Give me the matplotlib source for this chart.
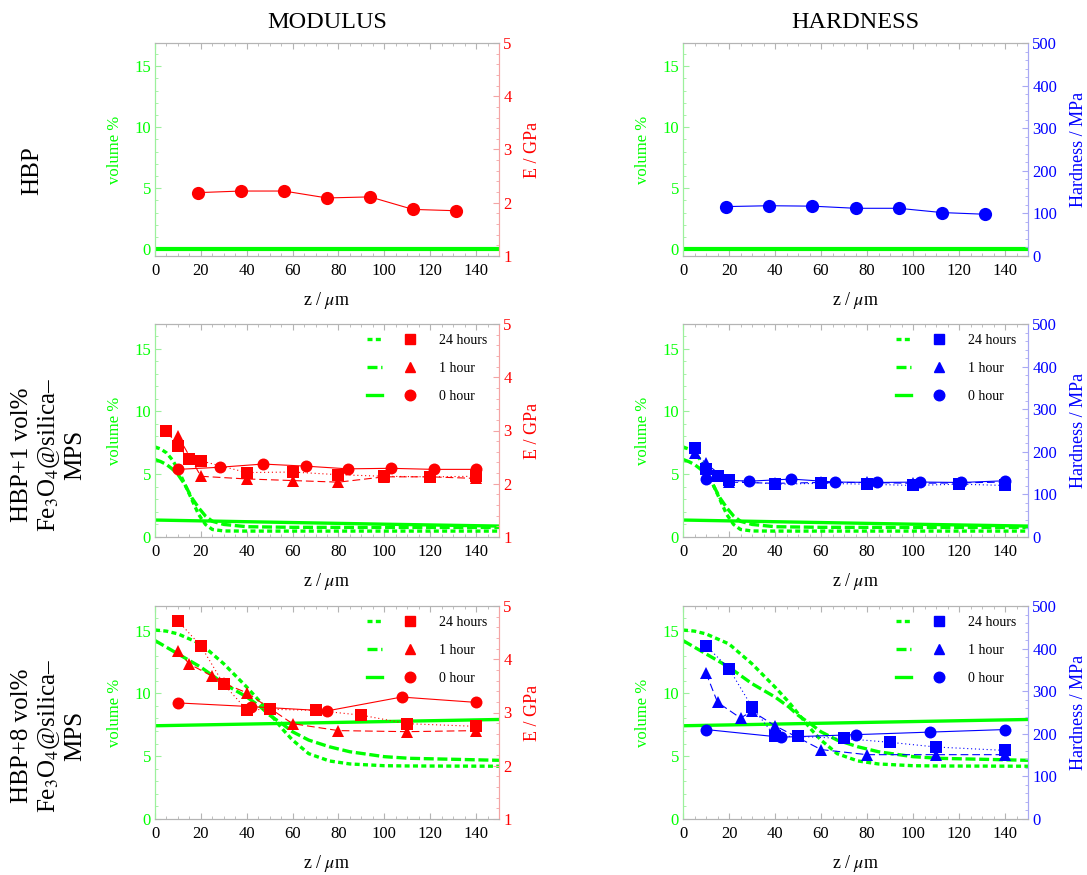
import matplotlib
matplotlib.use("Agg")
import matplotlib.pyplot as plt
from matplotlib.lines import Line2D
from matplotlib.legend_handler import HandlerTuple
from matplotlib.ticker import MultipleLocator

plt.rcParams["font.family"] = ["Liberation Serif", "DejaVu Serif"]
plt.rcParams["mathtext.fontset"] = "stix"

# ---- data -------------------------------------------------------------
# neat HBP
hbp_z = [18.75, 37.5, 56.25, 75.0, 93.75, 112.5, 131.25]
hbp_E = [2.19, 2.22, 2.22, 2.09, 2.11, 1.875, 1.85]
hbp_H = [116, 118, 117, 112, 112, 102, 98]
hbp_vol_z = [0, 150]
hbp_vol = [0, 0]

# HBP + 1 vol% particles: volume profiles
p1_vol_z = [0, 2.5, 5, 7.5, 10, 13, 16, 19, 22, 25, 30, 40, 60, 100, 150]
p1_vol_24 = [7.17, 7.0, 6.7, 6.15, 5.4, 4.2, 3.0, 1.8, 1.0, 0.6, 0.48, 0.47, 0.47, 0.47, 0.47]
p1_vol_1 = [6.17, 6.0, 5.77, 5.42, 4.98, 4.18, 3.13, 2.33, 1.67, 1.25, 1.0, 0.82, 0.77, 0.76, 0.76]
p1_vol_0z = [0, 30, 60, 100, 150]
p1_vol_0 = [1.35, 1.25, 1.15, 1.02, 0.87]

# HBP + 1 vol%: modulus
p1_zE_24 = [5, 10, 15, 20, 40, 60, 80, 100, 120, 140]
p1_E_24 = [3.00, 2.70, 2.47, 2.43, 2.21, 2.22, 2.17, 2.14, 2.13, 2.14]
p1_zE_1 = [10, 20, 40, 60, 80, 100, 120, 140]
p1_E_1 = [2.90, 2.14, 2.09, 2.06, 2.03, 2.13, 2.13, 2.10]
p1_zE_0 = [10, 28.3, 47.1, 66, 84, 102.7, 121.5, 140]
p1_E_0 = [2.27, 2.31, 2.37, 2.33, 2.28, 2.29, 2.27, 2.27]

# HBP + 1 vol%: hardness
p1_zH_24 = [5, 10, 15, 20, 40, 60, 80, 100, 120, 140]
p1_H_24 = [208, 159, 143, 134, 124, 126, 124, 121, 124, 121]
p1_zH_1 = [5, 10, 20, 40, 60, 80, 100, 120, 140]
p1_H_1 = [198, 173, 129, 126, 128, 128, 126, 127, 129]
p1_zH_0 = [10, 28.7, 47.1, 66, 84.3, 103, 121, 140]
p1_H_0 = [136, 131, 136, 129, 128, 129, 128, 132]

# HBP + 8 vol% particles: volume profiles
p8_vol_z = [0, 5, 10, 20, 30, 40, 46, 50, 56, 60, 67, 76, 85, 100, 111, 150]
p8_vol_24 = [15.04, 14.95, 14.73, 13.93, 12.35, 10.5, 9.3, 8.4, 7.07, 6.28, 5.2, 4.62, 4.38, 4.24, 4.22, 4.2]
p8_vol_1 = [14.2, 13.67, 13.14, 12.08, 10.77, 9.71, 8.92, 8.26, 7.5, 6.94, 6.28, 5.75, 5.35, 4.96, 4.83, 4.67]
p8_vol_0z = [0, 150]
p8_vol_0 = [7.42, 7.92]

# HBP + 8 vol%: modulus
p8_z_24 = [10, 20, 30, 40, 50, 70, 90, 110, 140]
p8_E_24 = [4.72, 4.25, 3.53, 3.05, 3.06, 3.04, 2.95, 2.79, 2.74]
p8_z_1 = [10, 15, 25, 30, 40, 60, 80, 110, 140]
p8_E_1 = [4.16, 3.91, 3.68, 3.55, 3.37, 2.79, 2.66, 2.64, 2.66]
p8_zE_0 = [10, 42, 75, 107.5, 140]
p8_E_0 = [3.18, 3.11, 3.03, 3.29, 3.19]

# HBP + 8 vol%: hardness
p8_H_24 = [407, 353, 263, 194, 194, 189, 180, 169, 161]
p8_H_1 = [343, 274, 237, 253, 219, 163, 151, 151, 151]
p8_zH_0 = [10, 42.5, 75, 107.5, 140]
p8_H_0 = [210, 192, 198, 204, 210]

legend_labels = ["24 hours", "1 hour", "0 hour"]
row_labels = ["HBP",
              "HBP+1 vol%\nFe$_3$O$_4$@silica\u2013\nMPS",
              "HBP+8 vol%\nFe$_3$O$_4$@silica\u2013\nMPS"]

# ---- styles -----------------------------------------------------------
GREEN = "#00ff00"
RED = "#ff0000"
BLUE = "#0000ff"
FRAME = "#b4b4b4"
vol_styles = [(0, (1.5, 1.0)), (0, (3.0, 1.1)), "-"]
pt_styles = [(0, (1, 2.5)), (0, (7, 3.5)), "-"]
markers = ["s", "^", "o"]
msizes = [8, 8, 8.6]

fig = plt.figure(figsize=(10.87, 8.75), dpi=100)
W, H = 1087, 875
col_x = [155, 683]
col_w = [344, 345]
row_top = [43, 324, 606]
ax_h = 213


def setup(ax, ax2, right_color, light, right_label, right_lim, major, minor, vol_lim, label_x):
    ax.set_xlim(0, 150)
    ax.set_ylim(*vol_lim)
    ax2.set_ylim(*right_lim)
    ax.xaxis.set_major_locator(MultipleLocator(20))
    ax.xaxis.set_minor_locator(MultipleLocator(5))
    ax.yaxis.set_major_locator(MultipleLocator(5))
    ax.yaxis.set_minor_locator(MultipleLocator(1))
    ax2.yaxis.set_major_locator(MultipleLocator(major))
    ax2.yaxis.set_minor_locator(MultipleLocator(minor))
    ax.tick_params(axis="x", which="both", direction="in", top=True, color=FRAME,
                   labelcolor="black", labelsize=12, pad=5)
    ax.tick_params(axis="x", which="major", length=4)
    ax.tick_params(axis="x", which="minor", length=2.2)
    ax.tick_params(axis="y", which="both", direction="in", right=False, color="#9cf09c",
                   labelcolor=GREEN, labelsize=12, pad=3)
    ax.tick_params(axis="y", which="major", length=4)
    ax.tick_params(axis="y", which="minor", length=2.2)
    ax2.tick_params(axis="y", which="both", direction="in", color=light,
                    labelcolor=right_color, labelsize=12, pad=3)
    ax2.tick_params(axis="y", which="major", length=4)
    ax2.tick_params(axis="y", which="minor", length=2.2)
    for a in (ax, ax2):
        a.spines["top"].set_color(FRAME)
        a.spines["bottom"].set_color(FRAME)
        a.spines["left"].set_color("#9cf09c")
        a.spines["right"].set_color(light)
    ax.set_xlabel("z / $\\mu$m", fontsize=13)
    ax.xaxis.set_label_coords(0.5, -0.16)
    ax.set_ylabel("volume %", fontsize=12, color=GREEN)
    ax.yaxis.set_label_coords(-0.093, 0.5)
    ax2.set_ylabel(right_label, fontsize=13, color=right_color)
    ax2.yaxis.set_label_coords(label_x, 0.5)


def add_legend(ax2, color):
    handles = []
    for ls, mk, ms in zip(vol_styles, markers, msizes):
        h_line = Line2D([], [], color=GREEN, lw=2.4, ls=ls)
        h_pt = Line2D([], [], color=color, marker=mk, ls="none", markersize=ms - 1)
        handles.append((h_line, h_pt))
    ax2.legend(handles, legend_labels, handler_map={tuple: HandlerTuple(ndivide=None, pad=1.45)},
               loc="upper right", frameon=False, fontsize=10, handlelength=3.6,
               handletextpad=1.6, labelspacing=1.1, borderaxespad=0.3,
               bbox_to_anchor=(0.995, 1.0))


rows = [
    dict(vol=[(hbp_vol_z, hbp_vol, "-")], lim=(-0.55, 16.9),
         E=[(hbp_z, hbp_E, "o", "-")], Hd=[(hbp_z, hbp_H, "o", "-")]),
    dict(vol=[(p1_vol_z, p1_vol_24, vol_styles[0]), (p1_vol_z, p1_vol_1, vol_styles[1]),
              (p1_vol_0z, p1_vol_0, "-")], lim=(0, 16.95),
         E=[(p1_zE_24, p1_E_24, "s", pt_styles[0]), (p1_zE_1, p1_E_1, "^", pt_styles[1]),
            (p1_zE_0, p1_E_0, "o", "-")],
         Hd=[(p1_zH_24, p1_H_24, "s", pt_styles[0]), (p1_zH_1, p1_H_1, "^", pt_styles[1]),
             (p1_zH_0, p1_H_0, "o", "-")]),
    dict(vol=[(p8_vol_z, p8_vol_24, vol_styles[0]), (p8_vol_z, p8_vol_1, vol_styles[1]),
              (p8_vol_0z, p8_vol_0, "-")], lim=(0, 16.95),
         E=[(p8_z_24, p8_E_24, "s", pt_styles[0]), (p8_z_1, p8_E_1, "^", pt_styles[1]),
            (p8_zE_0, p8_E_0, "o", "-")],
         Hd=[(p8_z_24, p8_H_24, "s", pt_styles[0]), (p8_z_1, p8_H_1, "^", pt_styles[1]),
             (p8_zH_0, p8_H_0, "o", "-")]),
]

msize = {"s": 8, "^": 8, "o": 8.6}

for r, row in enumerate(rows):
    for c in range(2):
        rect = [col_x[c] / W, 1 - (row_top[r] + ax_h) / H, col_w[c] / W, ax_h / H]
        ax = fig.add_axes(rect)
        ax2 = ax.twinx()
        if c == 0:
            color, light, lab, lim, maj, mnr, lx = RED, "#f4a4a4", "E / GPa", (1, 5), 1, 0.2, 1.073
            pts = row["E"]
        else:
            color, light, lab, lim, maj, mnr, lx = BLUE, "#a8a8f4", "Hardness / MPa", (0, 500), 100, 20, 1.122
            pts = row["Hd"]
        setup(ax, ax2, color, light, lab, lim, maj, mnr, row["lim"], lx)

        lw = 3.0 if r == 0 else 2.4
        for z, v, ls in row["vol"]:
            ax.plot(z, v, color=GREEN, lw=lw, ls=ls, solid_capstyle="butt")

        for z, v, mk, ls in pts:
            ms = 9.5 if r == 0 else msize[mk]
            ax2.plot(z, v, color=color, lw=0.8, ls=ls, marker=mk, markersize=ms,
                     markeredgewidth=0)

        if r > 0:
            add_legend(ax2, color)
        if r == 0:
            ax.set_title("MODULUS" if c == 0 else "HARDNESS", fontsize=17.5, pad=11)

# row labels down the left side
row_label_x = [32, 49, 49]
row_label_y = [171, 455, 736]
for lbl, x, y in zip(row_labels, row_label_x, row_label_y):
    fig.text(x / W, 1 - y / H, lbl, rotation=90, ha="center", va="center",
             multialignment="center", fontsize=18, linespacing=1.15)

fig.savefig("out.png", dpi=100)
